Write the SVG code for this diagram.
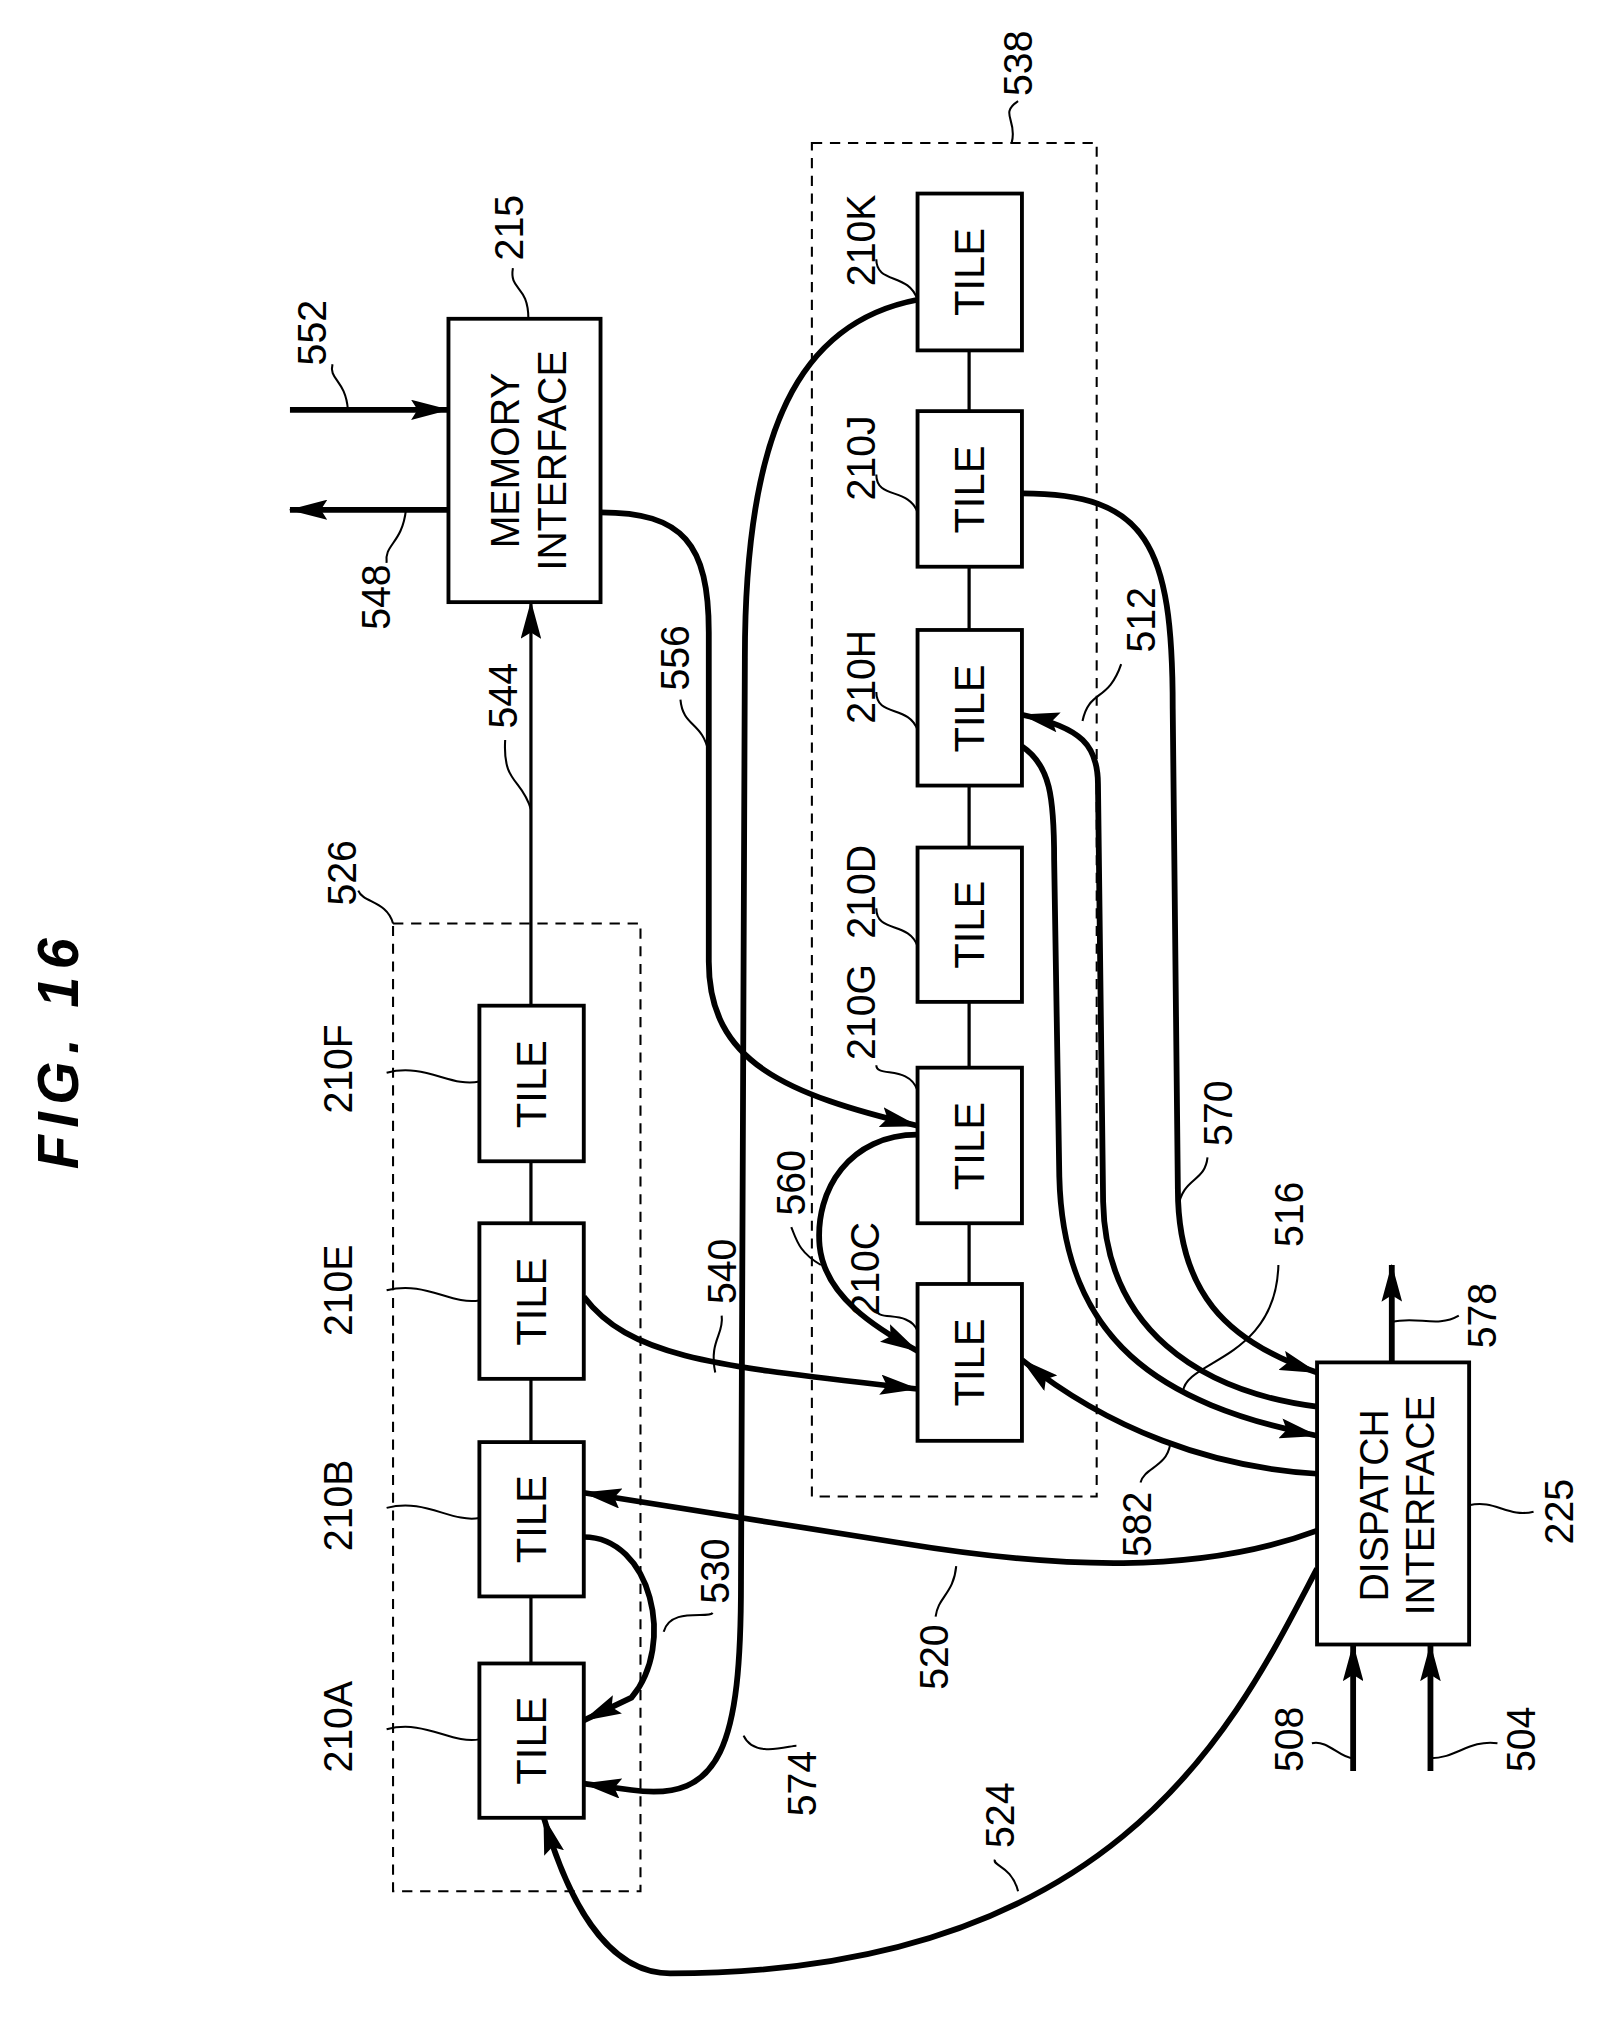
<svg xmlns="http://www.w3.org/2000/svg" width="1598" height="2024" viewBox="0 0 1598 2024">
<style>
.box{fill:#fff;stroke:#000;stroke-width:3}
.dash{fill:none;stroke:#000;stroke-width:1.6;stroke-dasharray:8 6}
.w{fill:none;stroke:#000;stroke-width:4.5}
.t{fill:none;stroke:#000;stroke-width:2.5}
.ld{fill:none;stroke:#000;stroke-width:1.6}
text{font-family:"Liberation Sans","DejaVu Sans",sans-serif;font-size:31px;fill:#000;text-anchor:middle;dominant-baseline:central}
.tl{font-size:33px}
</style>
<defs>
<marker id="a" viewBox="0 0 30 16" refX="29" refY="8" markerWidth="30" markerHeight="16" markerUnits="userSpaceOnUse" orient="auto"><path d="M0,0 L30,8 L0,16 L5,8 Z" fill="#000"/></marker>
</defs>
<rect width="1598" height="2024" fill="#fff"/>
<g transform="scale(1.2887,1.265)">
<text transform="translate(45,830) rotate(-90)" style="font-size:44px;font-style:italic;font-weight:bold;letter-spacing:6px">FIG. 16</text>

<g id="group526"><rect class="dash" x="305" y="730" width="192" height="765"/><path class="ld" d="M305,730 C300,712 282,714 278,704"/><text transform="translate(265,690) rotate(-90)">526</text></g>
<g id="group538"><rect class="dash" x="630" y="113" width="221" height="1070"/><path class="ld" d="M785,113 C790,95 775,90 790,80"/><text transform="translate(790,50) rotate(-90)">538</text></g>

<g id="connectors">
<path class="t" d="M412,918 V967 M412,1090 V1140 M412,1262 V1315 M752,277 V325 M752,448 V498 M752,621 V670 M752,792 V844 M752,967 V1015"/>
<path class="t" d="M412,795 V476" marker-end="url(#a)"/>
<path class="w" d="M225,324 H348" marker-end="url(#a)"/>
<path class="w" d="M348,403 H225" marker-end="url(#a)"/>
<path class="w" d="M1050,1400 V1300" marker-end="url(#a)"/>
<path class="w" d="M1110,1400 V1300" marker-end="url(#a)"/>
<path class="w" d="M1080,1077 V1000" marker-end="url(#a)"/>
<path class="w" d="M466,405 C530,405 550,430 550,500 L550,760 C550,840 610,865 712,890" marker-end="url(#a)"/>
<path class="w" d="M712,237 C620,255 578,340 578,520 L575,1250 C575,1380 560,1425 490,1415 L453,1410" marker-end="url(#a)"/>
<path class="w" d="M712,897 C660,897 632,940 636,985 C640,1025 680,1050 712,1068" marker-end="url(#a)"/>
<path class="w" d="M453,1025 C490,1075 560,1080 712,1098" marker-end="url(#a)"/>
<path class="w" d="M1022,1165 C940,1160 860,1130 793,1075" marker-end="url(#a)"/>
<path class="w" d="M1022,1210 C930,1245 820,1240 700,1220 L453,1180" marker-end="url(#a)"/>
<path class="w" d="M1022,1240 C960,1360 870,1560 520,1560 C470,1560 440,1500 422,1437" marker-end="url(#a)"/>
<path class="w" d="M453,1215 C505,1215 525,1300 490,1342 L453,1360" marker-end="url(#a)"/>
<path class="w" d="M793,590 C815,605 818,630 818,680 L822,930 C825,1060 900,1110 1022,1135" marker-end="url(#a)"/>
<path class="w" d="M1022,1112 C930,1100 858,1050 856,950 L852,620 C852,590 840,575 793,565" marker-end="url(#a)"/>
<path class="w" d="M793,390 C890,390 910,430 910,560 L914,940 C914,1020 950,1060 1022,1085" marker-end="url(#a)"/>
</g>

<g id="mem215"><rect class="box" x="348" y="252" width="118" height="224"/>
<text transform="translate(392,364) rotate(-90)">MEMORY</text><text transform="translate(428,364) rotate(-90)">INTERFACE</text>
<path class="ld" d="M410,252 C410,225 395,230 398,212"/><text transform="translate(395,180) rotate(-90)">215</text></g>
<g id="disp225"><rect class="box" x="1022" y="1077" width="118" height="223"/>
<text transform="translate(1066,1190) rotate(-90)">DISPATCH</text><text transform="translate(1102,1190) rotate(-90)">INTERFACE</text>
<path class="ld" d="M1140,1190 C1160,1185 1170,1200 1190,1195"/><text transform="translate(1210,1195) rotate(-90)">225</text></g>

<g id="tileF"><rect class="box" x="372" y="795" width="81" height="123"/><text class="tl" transform="translate(412,857) rotate(-90)">TILE</text><path class="ld" d="M372,855 C350,860 330,840 300,848"/><text transform="translate(262,845) rotate(-90)">210F</text></g>
<g id="tileE"><rect class="box" x="372" y="967" width="81" height="123"/><text class="tl" transform="translate(412,1029) rotate(-90)">TILE</text><path class="ld" d="M372,1028 C350,1032 330,1012 300,1020"/><text transform="translate(262,1020) rotate(-90)">210E</text></g>
<g id="tileB"><rect class="box" x="372" y="1140" width="81" height="122"/><text class="tl" transform="translate(412,1201) rotate(-90)">TILE</text><path class="ld" d="M372,1200 C350,1204 330,1184 300,1192"/><text transform="translate(262,1190) rotate(-90)">210B</text></g>
<g id="tileA"><rect class="box" x="372" y="1315" width="81" height="122"/><text class="tl" transform="translate(412,1376) rotate(-90)">TILE</text><path class="ld" d="M372,1375 C350,1379 330,1359 300,1367"/><text transform="translate(262,1365) rotate(-90)">210A</text></g>

<g id="tileK"><rect class="box" x="712" y="153" width="81" height="124"/><text class="tl" transform="translate(752,215) rotate(-90)">TILE</text><path class="ld" d="M712,237 C705,215 680,225 680,205"/><text transform="translate(668,190) rotate(-90)">210K</text></g>
<g id="tileJ"><rect class="box" x="712" y="325" width="81" height="123"/><text class="tl" transform="translate(752,387) rotate(-90)">TILE</text><path class="ld" d="M712,405 C705,385 680,395 680,375"/><text transform="translate(668,362) rotate(-90)">210J</text></g>
<g id="tileH"><rect class="box" x="712" y="498" width="81" height="123"/><text class="tl" transform="translate(752,560) rotate(-90)">TILE</text><path class="ld" d="M712,577 C705,557 680,567 680,547"/><text transform="translate(668,535) rotate(-90)">210H</text></g>
<g id="tileD"><rect class="box" x="712" y="670" width="81" height="122"/><text class="tl" transform="translate(752,731) rotate(-90)">TILE</text><path class="ld" d="M712,748 C705,728 680,738 680,718"/><text transform="translate(668,705) rotate(-90)">210D</text></g>
<g id="tileG"><rect class="box" x="712" y="844" width="81" height="123"/><text class="tl" transform="translate(752,906) rotate(-90)">TILE</text><path class="ld" d="M712,862 C705,842 680,852 680,842"/><text transform="translate(668,800) rotate(-90)">210G</text></g>
<g id="tileC"><rect class="box" x="712" y="1015" width="81" height="124"/><text class="tl" transform="translate(752,1077) rotate(-90)">TILE</text><path class="ld" d="M712,1052 C705,1035 680,1045 680,1035"/><text transform="translate(671,1003) rotate(-90)">210C</text></g>

<g id="labels">
<path class="ld" d="M270,324 C268,300 255,300 258,288"/><text transform="translate(242,263) rotate(-90)">552</text>
<path class="ld" d="M315,403 C312,430 298,430 300,445"/><text transform="translate(292,472) rotate(-90)">548</text>
<path class="ld" d="M412,640 C405,615 390,620 392,585"/><text transform="translate(390,550) rotate(-90)">544</text>
<path class="ld" d="M550,595 C545,570 530,575 528,553"/><text transform="translate(524,520) rotate(-90)">556</text>
<path class="ld" d="M840,570 C845,545 860,555 870,525"/><text transform="translate(885,490) rotate(-90)">512</text>
<path class="ld" d="M914,955 C918,930 935,935 937,915"/><text transform="translate(945,880) rotate(-90)">570</text>
<path class="ld" d="M918,1100 C920,1075 990,1075 992,1000"/><text transform="translate(1000,960) rotate(-90)">516</text>
<path class="ld" d="M637,1000 C620,990 618,980 614,970"/><text transform="translate(614,935) rotate(-90)">560</text>
<path class="ld" d="M555,1085 C550,1060 562,1055 560,1040"/><text transform="translate(560,1005) rotate(-90)">540</text>
<path class="ld" d="M515,1290 C520,1270 550,1280 553,1275"/><text transform="translate(555,1242) rotate(-90)">530</text>
<path class="ld" d="M908,1142 C905,1160 888,1160 885,1172"/><text transform="translate(882,1205) rotate(-90)">582</text>
<path class="ld" d="M742,1238 C740,1260 728,1262 726,1278"/><text transform="translate(725,1310) rotate(-90)">520</text>
<path class="ld" d="M577,1372 C585,1390 612,1380 618,1380"/><text transform="translate(622,1410) rotate(-90)">574</text>
<path class="ld" d="M790,1495 C785,1475 770,1475 772,1470"/><text transform="translate(776,1435) rotate(-90)">524</text>
<path class="ld" d="M1050,1390 C1040,1390 1030,1375 1018,1378"/><text transform="translate(1000,1375) rotate(-90)">508</text>
<path class="ld" d="M1110,1390 C1130,1390 1140,1375 1162,1378"/><text transform="translate(1180,1375) rotate(-90)">504</text>
<path class="ld" d="M1080,1045 C1100,1040 1115,1050 1132,1040"/><text transform="translate(1150,1040) rotate(-90)">578</text>
</g>
</g>
</svg>
